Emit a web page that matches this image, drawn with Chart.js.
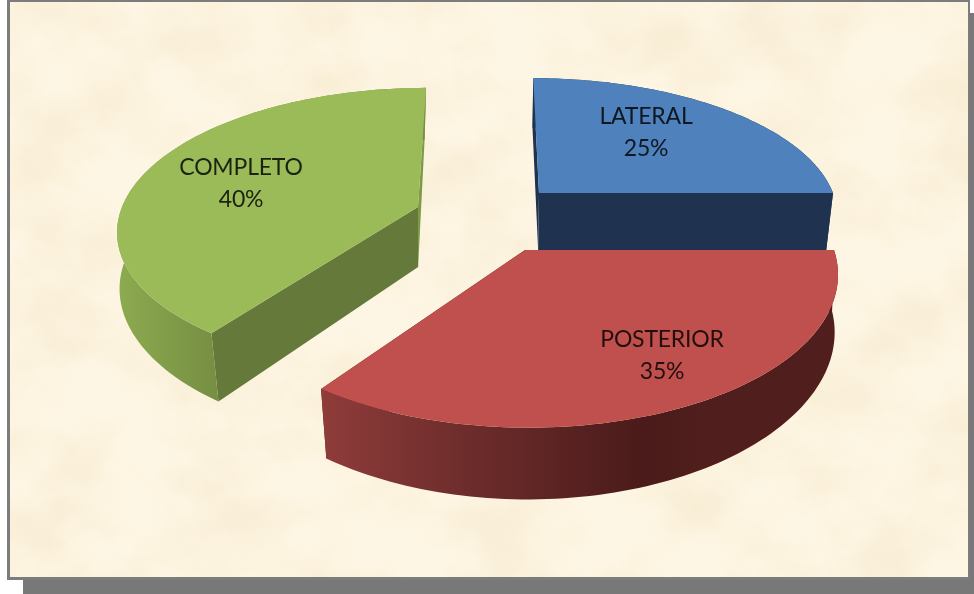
<!DOCTYPE html>
<html>
<head>
<meta charset="utf-8">
<title>Tipo de desgarro</title>
<script src="https://cdn.jsdelivr.net/npm/chart.js@4"></script>
<style>
  html, body { margin: 0; padding: 0; background: #fff; }
  #stage { position: relative; width: 974px; height: 594px; overflow: hidden; }
  #shadow { position: absolute; left: 23px; top: 13px; width: 951px; height: 581px; background: #787878; }
  #paper {
    position: absolute; left: 7px; top: 0; width: 958px; height: 575px;
    border: solid #7c7c7c; border-width: 2px 2px 3px 3px;
    background-color: #fef6e4;
  }
  #paper svg { position: absolute; left: 0; top: 0; }
  canvas { position: absolute; left: 0; top: 0; }
</style>
</head>
<body>
<div id="stage">
  <div id="shadow"></div>
  <div id="paper">
    <!-- textura de pergamino -->
    <svg width="958" height="575">
      <filter id="mottle" x="0" y="0" width="100%" height="100%">
        <feTurbulence type="fractalNoise" baseFrequency="0.011 0.014" numOctaves="4" seed="7"/>
        <feColorMatrix type="matrix" values="0 0 0 0 0.92  0 0 0 0 0.82  0 0 0 0 0.62  1.9 0 0 0 -0.68"/>
      </filter>
      <rect width="958" height="575" filter="url(#mottle)" opacity="0.75"/>
    </svg>
  </div>
  <canvas id="pie" width="974" height="594"></canvas>
</div>
<script>
  var categories = ['LATERAL', 'POSTERIOR', 'COMPLETO'];
  var shares = [25, 35, 40];
  var topColors = ['#4f81bd', '#c0504d', '#9bbb59'];

  /* fuerza de la perspectiva: el frente se ve mas grande que el fondo */
  var K = 0.15;

  /* cada porcion va separada: centro, radios y fuga propios en pantalla.
     t0 + t1 * dy es cuanto se cierra la cara inferior */
  var slices = [
    { cx: 539, cy: 193, rx: 294, ry: 132, depth: 57, vx: 495, t0: 0.02, t1: 0,
      wall: [[0, '#1f3350'], [1, '#1f3350']], wallX: [539, 832],
      cut: '#1f3350', label: [646, 117] },
    { cx: 525, cy: 250, rx: 309, ry: 151, depth: 61, vx: 505, t0: 0.006, t1: 0.028,
      wall: [[0, '#8f3c3a'], [0.35, '#702e2d'], [0.85, '#4a1b1a'], [1, '#4f1e1d']], wallX: [320, 700],
      cut: '#4a1b1a', label: [662, 340] },
    { cx: 418, cy: 207, rx: 296, ry: 137, depth: 60, vx: 480, t0: 0.002, t1: 0.03,
      wall: [[0, '#8dab50'], [1, '#768f42']], wallX: [117, 215],
      cut: '#65793a', backCut: '#7f9a47', label: [241, 168] }
  ];
  var drawOrder = [2, 0, 1];

  /* circulo unitario a pantalla; z = 1 es la cara inferior */
  function project(g, a, r, z) {
    var sx = Math.cos(a) * r, dy = Math.sin(a) * r;
    var w = 1 - K * dy;
    return {
      x: g.vx + (g.cx - g.vx + g.rx * sx) / w * (1 - (g.t0 + g.t1 * dy) * z),
      y: g.cy + (g.ry * dy + g.depth * z) / w
    };
  }

  function arcPoints(g, a0, a1, z) {
    var pts = [], n = 90, i;
    for (i = 0; i <= n; i++) pts.push(project(g, a0 + (a1 - a0) * i / n, 1, z));
    return pts;
  }

  function fillPoly(ctx, pts, fill) {
    ctx.beginPath();
    pts.forEach(function (p, i) { if (i) ctx.lineTo(p.x, p.y); else ctx.moveTo(p.x, p.y); });
    ctx.closePath();
    ctx.fillStyle = fill;
    ctx.fill();
  }

  function radialWall(ctx, g, a, fill) {
    fillPoly(ctx, [project(g, a, 0, 0), project(g, a, 1, 0), project(g, a, 1, 1), project(g, a, 0, 1)], fill);
  }

  function drawSlice(ctx, arc, g, color) {
    var a0 = arc.startAngle, a1 = arc.endAngle;
    var grad = ctx.createLinearGradient(g.wallX[0], 0, g.wallX[1], 0);
    g.wall.forEach(function (s) { grad.addColorStop(s[0], s[1]); });
    radialWall(ctx, g, a1, g.backCut || g.cut);
    radialWall(ctx, g, a0, g.cut);
    fillPoly(ctx, arcPoints(g, a0, a1, 0).concat(arcPoints(g, a1, a0, 1)), grad);
    fillPoly(ctx, [project(g, a0, 0, 0)].concat(arcPoints(g, a0, a1, 0)), color);
  }

  var pie3d = {
    id: 'pie3d',
    beforeDatasetsDraw: function (chart) {
      var ctx = chart.ctx, arcs = chart.getDatasetMeta(0).data;
      ctx.save();
      drawOrder.forEach(function (i) { drawSlice(ctx, arcs[i], slices[i], topColors[i]); });
      ctx.font = '23px Lato, "Open Sans", sans-serif';
      ctx.letterSpacing = '-0.2px';
      ctx.textAlign = 'center';
      ctx.textBaseline = 'middle';
      ctx.fillStyle = 'rgba(0,0,0,.82)';
      categories.forEach(function (name, i) {
        var p = slices[i].label;
        ctx.fillText(name, p[0], p[1]);
        ctx.fillText(shares[i] + '%', p[0], p[1] + 32);
      });
      ctx.restore();
      return false; // las porciones ya quedaron dibujadas con volumen
    }
  };

  new Chart(document.getElementById('pie').getContext('2d'), {
    type: 'pie',
    data: {
      labels: categories,
      datasets: [{ data: shares, backgroundColor: topColors, borderWidth: 0 }]
    },
    options: {
      responsive: false,
      animation: false,
      devicePixelRatio: 1,
      plugins: { legend: { display: false }, tooltip: { enabled: false }, title: { display: false } }
    },
    plugins: [pie3d]
  });
</script>
</body>
</html>
